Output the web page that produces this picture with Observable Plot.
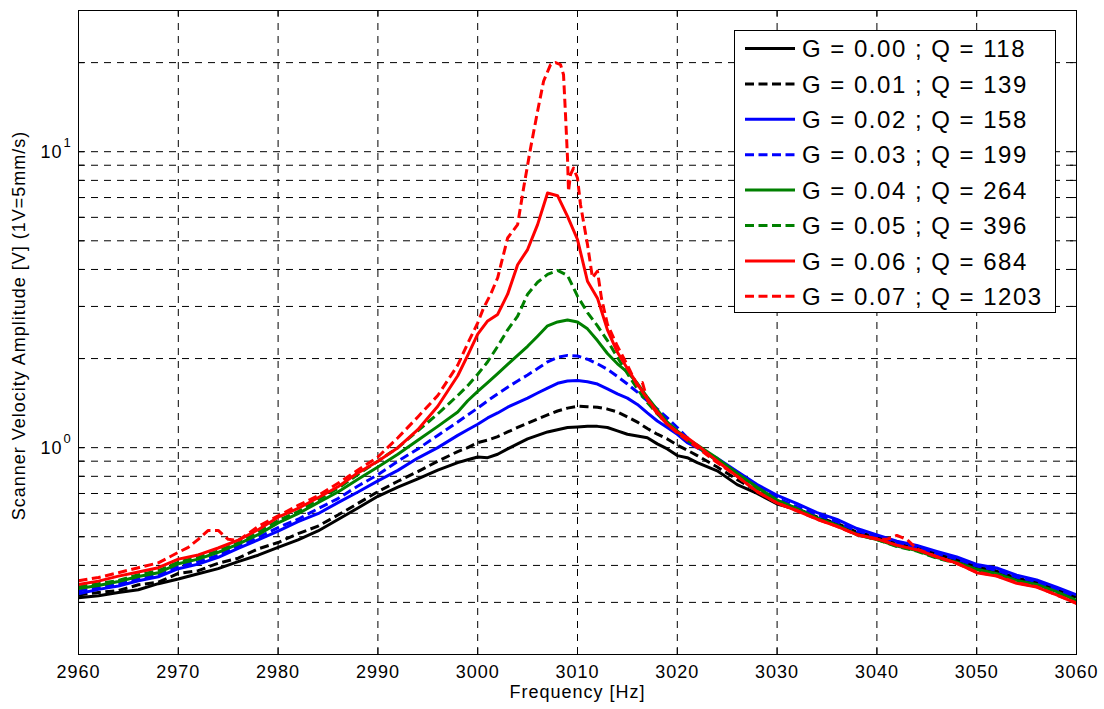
<!DOCTYPE html>
<html>
<head>
<meta charset="utf-8">
<script src="https://cdn.jsdelivr.net/npm/d3@7"></script>
<script src="https://cdn.jsdelivr.net/npm/@observablehq/plot@0.6"></script>
<style>
  html, body { margin: 0; padding: 0; background: #fff; overflow: hidden; }
  #wrap { position: relative; width: 1104px; height: 709px; font-family: "Liberation Sans", Arial, Helvetica, sans-serif; }
  #chart svg text { letter-spacing: 1px; }
  #legend text { letter-spacing: 1.5px; }
</style>
</head>
<body>
<div id="wrap"><div id="chart"></div></div>
<script>
// ---------- data ----------
const freqBase = [2960,2962,2964,2966,2968,2970,2972,2974,2976,2978,2980,2982,2984,2986,2988,2990,2992,2994,2996,2998,
  2999,3000,3001,3002,3003,3004,3005,3006,3007,3008,3009,3010,3011,3012,3013,3014,3015,3016,3017,3018,3019,3020,3021,3022,
  3024,3026,3028,3030,3032,3034,3036,3038,3040,3042,3044,3046,3048,3050,3052,3054,3056,3058,3060];

const ampG000 = [.311,.316,.324,.331,.347,.36,.375,.39,.412,.433,.46,.488,.523,.572,.625,.685,.735,.785,.84,.89,
  .91,.93,.925,.95,.99,1.03,1.07,1.10,1.13,1.15,1.17,1.175,1.18,1.18,1.17,1.14,1.11,1.095,1.08,1.03,.99,.94,.925,.89,
  .835,.75,.7,.645,.618,.578,.552,.513,.497,.47,.456,.438,.417,.395,.382,.36,.351,.331,.313];

const ampG001 = [.318,.324,.329,.344,.351,.376,.384,.407,.423,.455,.478,.512,.543,.592,.648,.71,.77,.83,.9,.97,
  1.0,1.04,1.06,1.09,1.13,1.17,1.21,1.25,1.29,1.33,1.36,1.38,1.375,1.37,1.35,1.32,1.27,1.22,1.16,1.11,1.07,1.02,.98,.94,
  .86,.78,.715,.655,.622,.583,.555,.518,.5,.473,.458,.435,.419,.396,.382,.363,.35,.329,.31];

const ampG002 = [.321,.332,.341,.355,.366,.39,.404,.426,.457,.488,.522,.562,.598,.652,.708,.772,.838,.922,1.0,1.1,
  1.15,1.2,1.26,1.31,1.37,1.42,1.47,1.53,1.59,1.65,1.68,1.685,1.67,1.64,1.58,1.52,1.47,1.4,1.31,1.23,1.17,1.11,1.04,1.0,
  .92,.83,.75,.69,.647,.603,.572,.533,.507,.483,.467,.446,.427,.403,.392,.371,.357,.338,.318];

const ampG003 = [.328,.336,.347,.36,.373,.398,.412,.433,.464,.498,.537,.573,.622,.673,.742,.81,.9,.99,1.1,1.22,
  1.29,1.36,1.44,1.52,1.6,1.68,1.76,1.85,1.95,2.02,2.05,2.04,1.99,1.92,1.84,1.74,1.64,1.54,1.44,1.35,1.26,1.17,1.08,1.01,
  .91,.82,.74,.675,.632,.593,.562,.523,.502,.476,.46,.438,.42,.398,.385,.365,.352,.331,.314];

const ampG004 = [.334,.342,.353,.367,.378,.405,.42,.443,.472,.508,.557,.598,.652,.708,.782,.86,.95,1.06,1.18,1.32,
  1.44,1.55,1.66,1.78,1.91,2.05,2.2,2.38,2.58,2.66,2.7,2.66,2.52,2.3,2.08,1.92,1.8,1.65,1.48,1.34,1.22,1.14,1.07,1.02,
  .92,.82,.735,.665,.622,.578,.547,.508,.489,.465,.449,.425,.41,.388,.375,.356,.345,.326,.305];

const ampG005 = [.338,.347,.356,.372,.384,.41,.427,.448,.477,.518,.567,.608,.667,.728,.812,.9,1.0,1.14,1.3,1.5,
  1.62,1.77,1.95,2.2,2.5,2.78,3.3,3.62,3.85,3.97,3.82,3.25,2.86,2.58,2.3,2.02,1.78,1.58,1.42,1.3,1.2,1.13,1.06,1.01,
  .9,.81,.725,.662,.622,.578,.547,.508,.489,.463,.447,.423,.407,.383,.372,.353,.342,.323,.303];

const ampG006 = [.345,.354,.368,.38,.393,.42,.434,.458,.487,.528,.582,.623,.677,.738,.822,.9,1.0,1.15,1.38,1.75,
  2.05,2.42,2.68,2.82,3.3,4.15,4.67,5.67,7.25,7.1,6.05,5.05,3.65,3.2,2.5,2.1,1.85,1.64,1.46,1.32,1.2,1.13,1.08,1.02,
  .9,.8,.71,.65,.612,.573,.542,.508,.492,.468,.452,.428,.407,.378,.368,.348,.338,.318,.298];

const freqG007 = [2960,2962,2964,2966,2968,2970,2971,2972,2973,2974,2975,2976,2978,2980,2982,2984,2986,2988,2990,2992,2994,2996,2998,
  2999,3000,3000.6,3001.3,3002,3003,3004,3004.6,3005.3,3006,3006.6,3007.3,3007.8,3008.3,3008.6,3008.8,3009,3009.1,3009.3,3009.6,
  3010,3010.3,3011,3011.5,3012,3012.4,3013,3014,3015,3016,3016.5,3017,3018,3019,3020,3021,3022,
  3024,3026,3028,3030,3032,3034,3036,3038,3040,3041,3042,3043,3044,3046,3048,3050,3052,3054,3056,3058,3060];
const ampG007 = [.355,.364,.378,.393,.408,.443,.46,.49,.525,.525,.49,.485,.542,.588,.638,.688,.758,.84,.93,1.08,1.27,1.5,1.9,
  2.25,2.64,2.97,3.3,3.75,5.11,5.67,7.54,10.3,13.7,17.3,19.7,20.0,19.7,18.2,13.3,9.5,7.35,8.37,8.8,
  8.15,6.63,4.86,3.75,3.95,3.2,2.61,2.2,1.9,1.62,1.66,1.45,1.3,1.2,1.12,1.06,1.0,
  .89,.8,.71,.65,.612,.573,.542,.508,.49,.49,.505,.49,.455,.428,.406,.38,.369,.35,.339,.318,.298];

const seriesLabels = ["G = 0.00 ; Q = 118","G = 0.01 ; Q = 139","G = 0.02 ; Q = 158","G = 0.03 ; Q = 199",
  "G = 0.04 ; Q = 264","G = 0.05 ; Q = 396","G = 0.06 ; Q = 684","G = 0.07 ; Q = 1203"];
const seriesColors = ["#000000","#000000","#0000ff","#0000ff","#008000","#008000","#ff0000","#ff0000"];
const seriesDashed = [false,true,false,true,false,true,false,true];

const xTicks = [2960,2970,2980,2990,3000,3010,3020,3030,3040,3050,3060];
const yGrid = [0.2,0.3,0.4,0.5,0.6,0.7,0.8,0.9,1,2,3,4,5,6,7,8,9,10,20,30];
const yLabelValues = [1, 10];
const yLabelBase = ["10","10"];
const yLabelExp = ["0","1"];
const xTitle = "Frequency [Hz]";
const yTitle = "Scanner Velocity Amplitude [V] (1V=5mm/s)";

// ---------- build ----------
const seriesFreqs = [freqBase,freqBase,freqBase,freqBase,freqBase,freqBase,freqBase,freqG007];
const seriesAmps = [ampG000,ampG001,ampG002,ampG003,ampG004,ampG005,ampG006,ampG007];
const DASH = "9,4.5";
const LW = 3;

const lineMarks = seriesAmps.map((amps, i) =>
  Plot.line(amps.map((v, j) => ({f: seriesFreqs[i][j], v})), {
    x: "f", y: "v",
    stroke: seriesColors[i], strokeWidth: LW,
    strokeDasharray: seriesDashed[i] ? DASH : undefined,
    strokeLinejoin: "round", strokeLinecap: "butt"
  })
);

const gridStyle = {stroke: "#000", strokeWidth: 1, strokeOpacity: 1, strokeDasharray: "7,6"};
const W = 1104, H = 709, ML = 78, MR = 28, MT = 10, MB = 55;
const PW = W - ML - MR, PH = H - MT - MB;

const chart = Plot.plot({
  width: W, height: H,
  marginLeft: ML, marginRight: MR, marginTop: MT, marginBottom: MB,
  style: {fontFamily: "Liberation Sans, Arial, Helvetica, sans-serif", fontSize: "18px", background: "#fff", color: "#000"},
  x: {domain: [2960, 3060]},
  y: {type: "log", domain: [0.2, 30], axis: null},
  marks: [
    Plot.ruleY(yGrid, {y: d => d, ...gridStyle}),
    Plot.ruleX(xTicks, {x: d => d, ...gridStyle}),
    Plot.tickY(yGrid, {y: d => d, insetRight: PW - 6, stroke: "#000"}),
    Plot.tickY(yGrid, {y: d => d, insetLeft: PW - 6, stroke: "#000"}),
    Plot.tickX(xTicks, {x: d => d, insetTop: PH - 6, stroke: "#000"}),
    Plot.tickX(xTicks, {x: d => d, insetBottom: PH - 6, stroke: "#000"}),
    ...lineMarks,
    Plot.frame({stroke: "#000", strokeWidth: 1}),
    Plot.axisX({ticks: xTicks, tickSize: 0, tickPadding: 11, tickFormat: d => String(d), label: null, fontSize: 18}),
    Plot.text(yLabelValues, {y: d => d, text: (d, i) => yLabelBase[i], frameAnchor: "left", dx: -16, dy: 1, textAnchor: "end", fontSize: 18}),
    Plot.text(yLabelValues, {y: d => d, text: (d, i) => yLabelExp[i], frameAnchor: "left", dx: -15, dy: -9, textAnchor: "start", fontSize: 13}),
    Plot.text([xTitle], {text: d => d, frameAnchor: "bottom", dy: 43, textAnchor: "middle", fontSize: 18}),
    Plot.text([yTitle], {text: d => d, frameAnchor: "left", rotate: -90, dx: -59, dy: -7, textAnchor: "middle", fontSize: 18})
  ]
});
document.getElementById("chart").appendChild(chart);

// ---------- legend ----------
const legW = 322, legH = 283;
const leg = d3.select("#wrap").append("svg").attr("id", "legend")
  .attr("width", legW).attr("height", legH)
  .style("position", "absolute").style("left", "734px").style("top", "30px");
leg.append("rect").attr("x", 0.5).attr("y", 0.5).attr("width", legW - 1).attr("height", legH - 1)
  .attr("fill", "#fff").attr("stroke", "#000").attr("stroke-width", 1);
seriesLabels.forEach((lab, i) => {
  const cy = 18.5 + i * 35.4;
  leg.append("line").attr("x1", 11).attr("x2", 61).attr("y1", cy).attr("y2", cy)
    .attr("stroke", seriesColors[i]).attr("stroke-width", LW)
    .attr("stroke-dasharray", seriesDashed[i] ? DASH : null);
  leg.append("text").attr("x", 68).attr("y", cy + 8.6).text(lab)
    .attr("font-family", "Liberation Sans, Arial, Helvetica, sans-serif").attr("font-size", 24).attr("fill", "#000");
});
</script>
</body>
</html>
